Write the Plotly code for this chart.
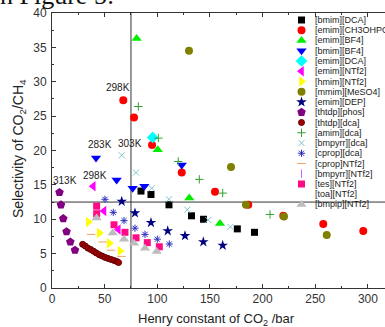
import plotly.graph_objects as go

# ---------------- data ----------------
bmim_dca_x = [84.5, 94.0, 111.1, 132.5, 143.9, 176.0, 192.3]
bmim_dca_y = [14.1, 13.6, 12.1, 10.5, 10.0, 8.6, 8.1]

emim_ch3ohpo2_x = [67.7, 77.9, 95.0, 123.2, 154.8, 186.4, 219.7, 257.6, 295.6]
emim_ch3ohpo2_y = [27.3, 24.8, 20.8, 16.8, 14.0, 12.1, 10.5, 9.3, 8.3]

emim_bf4_x = [80.4, 100.4, 130.4, 159.5]
emim_bf4_y = [36.3, 20.1, 13.1, 9.4]

bmim_bf4_x = [41.8, 61.4, 76.6, 87.7, 123.2]
bmim_bf4_y = [18.9, 15.7, 14.5, 14.8, 17.9]

emim_dca_x = [95.6]
emim_dca_y = [21.9]

emim_ntf2_x = [39.2, 49.4, 63.0]
emim_ntf2_y = [14.8, 11.2, 8.5]

hmim_ntf2_x = [34.5, 44.9, 54.4, 64.6]
hmim_ntf2_y = [9.6, 8.0, 6.5, 5.4]

mmim_meso4_x = [130.1, 170.0, 184.2, 220.3, 260.9]
mmim_meso4_y = [34.5, 17.6, 12.1, 10.4, 7.7]

emim_dep_x = [66.2, 78.8, 94.0, 109.9, 126.3, 143.7, 162.1]
emim_dep_y = [12.6, 10.9, 9.5, 8.3, 7.6, 6.7, 6.2]

thtdp_phos_x = [7.1, 8.5, 10.7, 13.8, 17.4, 21.8]
thtdp_phos_y = [13.9, 12.1, 10.1, 8.2, 6.7, 5.5]

thtdp_dca_x = [29.1, 31.6, 34.2, 36.8, 39.5, 42.0, 44.8, 47.6, 50.5, 53.3, 56.2, 59.0, 61.6, 63.2]
thtdp_dca_y = [6.35, 6.1, 5.8, 5.6, 5.35, 5.1, 4.85, 4.65, 4.45, 4.3, 4.15, 4.0, 3.85, 3.7]

amim_dca_x = [82.0, 101.0, 119.9, 139.9, 162.1, 207.0]
amim_dca_y = [26.4, 21.8, 18.4, 15.8, 13.8, 10.7]

bmpyrr_dca_x = [66.2, 79.8, 94.7, 111.1, 128.5, 148.4, 169.5]
bmpyrr_dca_y = [19.3, 16.8, 14.5, 12.9, 11.4, 9.9, 8.9]

cprop_dca_x = [50.3, 58.2, 68.4, 78.8, 88.3, 100.0, 111.4]
cprop_dca_y = [12.9, 11.0, 9.8, 8.7, 7.8, 7.1, 6.4]

cprop_ntf2_x = [37.0, 48.0, 56.0, 66.0]
cprop_ntf2_y = [7.8, 6.7, 5.5, 4.6]

bmpyrr_ntf2_x = []
bmpyrr_ntf2_y = []

tes_ntf2_x = [42.4, 42.4, 58.9, 69.3, 79.8, 90.5, 101.9]
tes_ntf2_y = [11.9, 10.8, 9.2, 8.1, 7.3, 6.6, 6.0]

toa_ntf2_x = []
toa_ntf2_y = []

bmpip_ntf2_x = [42.4, 57.6, 68.4, 77.9, 88.3, 99.4]
bmpip_ntf2_y = [10.2, 8.0, 7.1, 6.5, 5.8, 5.3]

temp_labels = ["298K", "283K", "303K", "298K", "313K"]
temp_label_x = [62.7, 46.0, 73.6, 40.8, 12.3]
temp_label_y = [29.2, 20.9, 21.0, 16.3, 15.7]

ref_x = 75
ref_y = 12.5

x_ticks = [0, 50, 100, 150, 200, 250, 300]
y_ticks = [0, 5, 10, 15, 20, 25, 30, 35, 40]

# ---------------- styles ----------------
def solid(symbol, color, size, lc=None, lw=0):
    return dict(symbol=symbol, color=color, size=size,
                line=dict(color=lc or color, width=lw))

def thin(symbol, color, size, lw=1):
    return dict(symbol=symbol, color=color, size=size,
                line=dict(color=color, width=lw))

series = [
    ("[bmim][DCA]", bmim_dca_x, bmim_dca_y, solid("square", "#000000", 7)),
    ("[emim][CH3OHPO2]", emim_ch3ohpo2_x, emim_ch3ohpo2_y, solid("circle", "#ff0000", 8)),
    ("[emim][BF4]", emim_bf4_x, emim_bf4_y, solid("triangle-up", "#00ee00", 9)),
    ("[bmim][BF4]", bmim_bf4_x, bmim_bf4_y, solid("triangle-down", "#0000ff", 9)),
    ("[emim][DCA]", emim_dca_x, emim_dca_y, solid("diamond", "#00ffff", 9)),
    ("[emim][NTf2]", emim_ntf2_x, emim_ntf2_y, solid("triangle-left", "#ff00ff", 9)),
    ("[hmim][NTf2]", hmim_ntf2_x, hmim_ntf2_y, solid("triangle-right", "#ffff00", 9)),
    ("[mmim][MeSO4]", mmim_meso4_x, mmim_meso4_y, solid("circle", "#808000", 8)),
    ("[emim][DEP]", emim_dep_x, emim_dep_y, solid("star", "#000080", 8)),
    ("[thtdp][phos]", thtdp_phos_x, thtdp_phos_y, solid("pentagon", "#800080", 9)),
    ("[thtdp][dca]", thtdp_dca_x, thtdp_dca_y, solid("circle", "#a00000", 6, "#600000", 1)),
    ("[amim][dca]", amim_dca_x, amim_dca_y, thin("cross-thin-open", "#33a033", 6)),
    ("[bmpyrr][dca]", bmpyrr_dca_x, bmpyrr_dca_y, thin("x-thin-open", "#80c4cc", 6)),
    ("[cprop][dca]", cprop_dca_x, cprop_dca_y, thin("asterisk-open", "#3030c0", 6)),
    ("[cprop]NTf2]", cprop_ntf2_x, cprop_ntf2_y, thin("line-ew-open", "#f0a060", 6)),
    ("[bmpyrr][NTf2]", bmpyrr_ntf2_x, bmpyrr_ntf2_y, thin("line-ns-open", "#cc66ff", 6)),
    ("[tes][NTf2]", tes_ntf2_x, tes_ntf2_y, solid("square", "#ff0a84", 7)),
    ("[toa][NTf2]", toa_ntf2_x, toa_ntf2_y, solid("circle", "#ffffff", 7)),
    ("[bmpip][NTf2]", bmpip_ntf2_x, bmpip_ntf2_y, solid("triangle-up", "#bdbdbd", 9)),
]

W, H = 385, 327
ML, MR, MT, MB = 52, 0, 13, 39
PW, PH = W - ML - MR, H - MT - MB

def px2fx(px):
    return (px - ML) / PW

def py2fy(py):
    return (H - MB - py) / PH

fig = go.Figure()

for name, xs, ys, mk in series:
    if xs:
        fig.add_trace(go.Scatter(x=xs, y=ys, mode="markers", name=name,
                                 marker=mk, showlegend=False, cliponaxis=False))

# manual legend on an overlay axis
leg_marker_px = 301.5
leg_text_px = 312.5
leg_top_py = 20.0
leg_step = 10.25
names = [s[0] for s in series]
leg_y = [py2fy(leg_top_py + i * leg_step) for i in range(len(series))]
for i, (name, xs, ys, mk) in enumerate(series):
    fig.add_trace(go.Scatter(x=[px2fx(leg_marker_px)], y=[leg_y[i]], mode="markers",
                             marker=mk, xaxis="x2", yaxis="y2", showlegend=False,
                             cliponaxis=False))

annotations = []
for i, name in enumerate(names):
    annotations.append(dict(x=px2fx(leg_text_px), y=leg_y[i], xref="paper", yref="paper",
                            text=name, showarrow=False, xanchor="left", yanchor="middle",
                            font=dict(family="Liberation Sans Narrow, Arial Narrow, Liberation Sans, Arial",
                                      size=9, color="#222222")))

for t, x, y in zip(temp_labels, temp_label_x, temp_label_y):
    annotations.append(dict(x=x, y=y, xref="x", yref="y", text=t, showarrow=False,
                            font=dict(family="Liberation Sans, Arial", size=10, color="#222222")))

# axis titles
annotations.append(dict(x=px2fx(19), y=py2fy(149), xref="paper", yref="paper",
                        text="Selectivity of CO<sub>2</sub>/CH<sub>4</sub>", textangle=-90,
                        showarrow=False, xanchor="center", yanchor="middle",
                        font=dict(family="Liberation Sans, Arial", size=14, color="#222222")))
annotations.append(dict(x=px2fx(216), y=py2fy(319), xref="paper", yref="paper",
                        text="Henry constant of CO<sub>2</sub> /bar",
                        showarrow=False, xanchor="center", yanchor="middle",
                        font=dict(family="Liberation Sans, Arial", size=13, color="#222222")))
# page text cut at top
annotations.append(dict(x=px2fx(-2), y=py2fy(12), xref="paper", yref="paper",
                        text="n Figure 5:", showarrow=False, xanchor="left", yanchor="bottom",
                        font=dict(family="Liberation Serif, Times New Roman", size=26, color="#111111")))

shapes = [
    dict(type="line", xref="x", yref="paper", x0=ref_x, x1=ref_x, y0=0, y1=1,
         line=dict(color="#333333", width=1), layer="below"),
    dict(type="line", xref="paper", yref="y", x0=0, x1=1, y0=ref_y, y1=ref_y,
         line=dict(color="#333333", width=1), layer="below"),
]

tickfont = dict(family="Liberation Sans, Arial", size=12, color="#333333")
fig.update_layout(
    width=W, height=H,
    margin=dict(l=ML, r=MR, t=MT, b=MB, pad=0),
    paper_bgcolor="white", plot_bgcolor="white",
    showlegend=False,
    xaxis=dict(range=[0, PW / 1.053], tickvals=x_ticks, ticks="inside", ticklen=4,
               tickcolor="#333333", showline=True, linecolor="#333333", linewidth=1,
               mirror="ticks", showgrid=False, zeroline=False, tickfont=tickfont,
               automargin=False,
               minor=dict(dtick=25, tick0=0, ticks="inside", ticklen=2, tickcolor="#333333")),
    yaxis=dict(range=[0, 40], tickvals=y_ticks, ticks="inside", ticklen=4,
               tickcolor="#333333", showline=True, linecolor="#333333", linewidth=1,
               showgrid=False, zeroline=False, tickfont=tickfont, automargin=False,
               ticklabelstandoff=2,
               minor=dict(dtick=2.5, tick0=0, ticks="inside", ticklen=2, tickcolor="#333333")),
    xaxis2=dict(overlaying="x", range=[0, 1], visible=False, fixedrange=True),
    yaxis2=dict(overlaying="y", range=[0, 1], visible=False, fixedrange=True),
    annotations=annotations,
    shapes=shapes,
)

fig.write_html("out.html")
